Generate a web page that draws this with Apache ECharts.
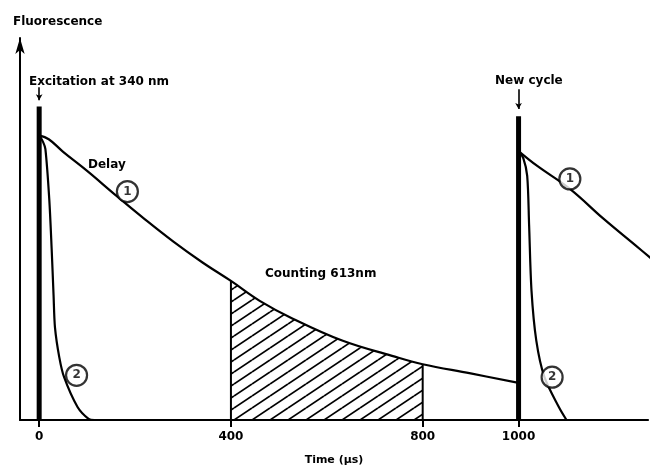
<!DOCTYPE html>
<html>
<head>
<meta charset="utf-8">
<script src="https://cdn.jsdelivr.net/npm/echarts@6/dist/echarts.min.js"></script>
<style>
  html, body { margin: 0; padding: 0; background: #fff; }
  #chart { width: 652px; height: 471px; }
</style>
</head>
<body>
<div id="chart"></div>
<script>
// time in microseconds, fluorescence in arbitrary units (0-100)
const decay1T = [0, 20, 50, 100, 160, 220, 280, 340, 400, 460, 528, 632, 736, 800, 900, 1000]
const decay1V = [74.5, 73.5, 70.2, 65.2, 58.8, 52.6, 46.7, 41.3, 36.4, 31.2, 26.6, 20.8, 16.8, 14.6, 12.2, 9.7]
const fast1T = [0, 8, 13, 21, 26, 30, 33, 42, 52, 80, 103, 115]
const fast1V = [74.5, 72.8, 70.9, 57.9, 44.9, 32.7, 24.2, 16.4, 11.2, 3.4, 0.3, 0]
const decay2T = [1000, 1039, 1107, 1177, 1244, 1289]
const decay2V = [70.4, 66.5, 60.5, 52.7, 45.7, 41.0]
const fast2T = [1000, 1010, 1018, 1022, 1027, 1037, 1054, 1084, 1100]
const fast2V = [70.4, 68.5, 63.9, 51, 33.8, 20.8, 11.2, 3.4, 0]

const pulseT = [0, 1000]
const pulseTop = [82.1, 79.5]
const arrowFrom = [87.1, 86.6]
const arrowTo = [83.7, 81.4]

const countStart = 400
const countEnd = 800

const markerT = [184, 78, 1107, 1070]
const markerV = [59.8, 11.7, 63.1, 11.2]
const markerText = ['1', '2', '1', '2']

const tickValues = [0, 400, 800, 1000]

const FONT = 'DejaVu Sans'

function zip(xs, ys) {
  return xs.map((x, i) => [x, ys[i]])
}

// diagonal hatch tile
function hatchPattern() {
  const w = 18
  const h = 12
  const c = document.createElement('canvas')
  c.width = w
  c.height = h
  const ctx = c.getContext('2d')
  ctx.strokeStyle = '#000'
  ctx.lineWidth = 1.7
  for (let k = -1; k <= 1; k++) {
    ctx.beginPath()
    ctx.moveTo(0, h + k * h)
    ctx.lineTo(w, k * h)
    ctx.stroke()
  }
  return c
}

const decay1 = zip(decay1T, decay1V)
const countArea = decay1.filter(p => p[0] >= countStart && p[0] <= countEnd)
const vAt = t => decay1.find(p => p[0] === t)[1]

const curveStyle = { color: '#000', width: 2.2 }

function curve(data, smooth) {
  return {
    type: 'line',
    data: data,
    smooth: smooth,
    symbol: 'none',
    lineStyle: curveStyle,
    z: 3
  }
}

const chart = echarts.init(document.getElementById('chart'))

const series = [
  {
    type: 'line',
    data: countArea,
    smooth: 0.4,
    symbol: 'none',
    lineStyle: { width: 0 },
    areaStyle: { color: { image: hatchPattern(), repeat: 'repeat' }, opacity: 1 },
    z: 1
  },
  curve(decay1, 0.4),
  curve(zip(fast1T, fast1V), 0.3),
  curve(zip(decay2T, decay2V), 0.4),
  curve(zip(fast2T, fast2V), 0.3),
  // borders of the counting window
  ...[countStart, countEnd].map(t => ({
    type: 'line',
    data: [[t, 0], [t, vAt(t)]],
    symbol: 'none',
    lineStyle: { color: '#000', width: 2 },
    z: 3
  })),
  // excitation pulses with their little arrows
  ...pulseT.map((t, i) => ({
    type: 'line',
    data: [[t, 0], [t, pulseTop[i]]],
    symbol: 'none',
    lineStyle: { color: '#000', width: 5 },
    z: 4,
    markLine: {
      silent: true,
      symbol: ['none', 'arrow'],
      symbolSize: [5, 6],
      label: { show: false },
      lineStyle: { color: '#000', width: 1.6, type: 'solid' },
      data: [[{ coord: [t, arrowFrom[i]] }, { coord: [t, arrowTo[i]] }]]
    }
  })),
  {
    type: 'scatter',
    data: zip(markerT, markerV).map((p, i) => ({ value: p, name: markerText[i] })),
    symbol: 'circle',
    symbolSize: 21,
    itemStyle: { color: '#fff', borderColor: '#000', borderWidth: 2.2 },
    label: {
      show: true,
      position: 'inside',
      formatter: p => p.name,
      color: '#000',
      fontFamily: FONT,
      fontWeight: 'bold',
      fontSize: 12
    },
    z: 5
  }
]

chart.setOption({
  backgroundColor: '#fff',
  animation: false,
  grid: { left: 20, right: 4, top: 38, bottom: 48 },
  xAxis: {
    type: 'value',
    min: -40,
    max: 1270,
    name: 'Time (μs)',
    nameLocation: 'middle',
    nameGap: 35,
    nameTextStyle: { color: '#000', fontFamily: FONT, fontWeight: 'bold', fontSize: 11 },
    axisLine: { onZero: false, lineStyle: { color: '#000', width: 2.2 } },
    axisTick: { show: true, customValues: tickValues, length: 7, lineStyle: { color: '#000', width: 2 } },
    axisLabel: {
      customValues: tickValues,
      formatter: v => String(v),
      margin: 11,
      color: '#000',
      fontFamily: FONT,
      fontWeight: 'bold',
      fontSize: 12
    },
    splitLine: { show: false }
  },
  yAxis: {
    type: 'value',
    min: 0,
    max: 100,
    axisLine: {
      show: true,
      onZero: false,
      symbol: ['none', 'arrow'],
      symbolSize: [7, 16],
      lineStyle: { color: '#000', width: 2 }
    },
    axisTick: { show: false },
    axisLabel: { show: false },
    splitLine: { show: false }
  },
  graphic: [
    { type: 'text', left: 13, top: 16, style: { text: 'Fluorescence', font: 'bold 12px ' + FONT, fill: '#000' } },
    { type: 'text', left: 29, top: 76, style: { text: 'Excitation at 340 nm', font: 'bold 12px ' + FONT, fill: '#000' } },
    { type: 'text', left: 495, top: 75, style: { text: 'New cycle', font: 'bold 12px ' + FONT, fill: '#000' } },
    { type: 'text', left: 88, top: 159, style: { text: 'Delay', font: 'bold 12px ' + FONT, fill: '#000' } },
    { type: 'text', left: 265, top: 268, style: { text: 'Counting 613nm', font: 'bold 12px ' + FONT, fill: '#000' } }
  ],
  series: series
})
</script>
</body>
</html>
